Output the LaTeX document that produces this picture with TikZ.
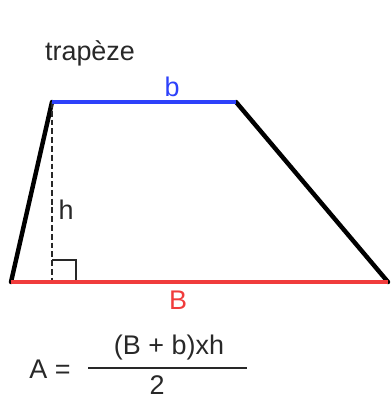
\documentclass[tikz,border=0pt]{standalone}
\usepackage{fontspec}
\setmainfont{Liberation Sans}
\usetikzlibrary{positioning}
\definecolor{smallb}{RGB}{45,65,250}
\definecolor{bigb}{RGB}{240,60,60}
\definecolor{ink}{RGB}{40,40,40}

\begin{document}
\begin{tikzpicture}[x=0.03cm,y=-0.03cm,
  side/.style={line width=3.8pt,black,line cap=round},
  baseb/.style={line width=3.6pt,bigb},
  topb/.style={line width=3.6pt,smallb},
  height/.style={line width=0.9pt,ink,dash pattern=on 5pt off 2.5pt},
  label/.style={inner sep=0pt,text=ink,font=\fontsize{23}{27}\selectfont},
]
\useasboundingbox (0,0) rectangle (390,401);
\coordinate (tl) at (52,102);
\coordinate (tr) at (236,102);
\coordinate (bl) at (11,282);
\coordinate (br) at (388,282);
\coordinate (foot) at (52,282);

\node[label] (title) at (90,53) {trapèze};

\draw[side] (bl) -- (tl);
\draw[side] (tr) -- (br);
\draw[height] (tl) -- (foot);
\draw[line width=1.1pt,ink] (52,260) -- (76,260) -- (76,282);
\draw[baseb] (bl) -- (br);
\draw[topb] (tl) -- (tr);

\node[label,text=smallb] (small) at (172,87) {b};
\node[label,text=bigb] (big) at (178,300) {B};
\node[label] (hlab) at (66,210) {h};

% formula
\node[label] (area) at (50,369) {A =};
\node[label] (num) at (169,348) {(B + b)xh};
\node[label] (den) at (157,385) {2};
\draw[line width=1.1pt,ink] (88,368) -- (247,368);
\end{tikzpicture}
\end{document}
